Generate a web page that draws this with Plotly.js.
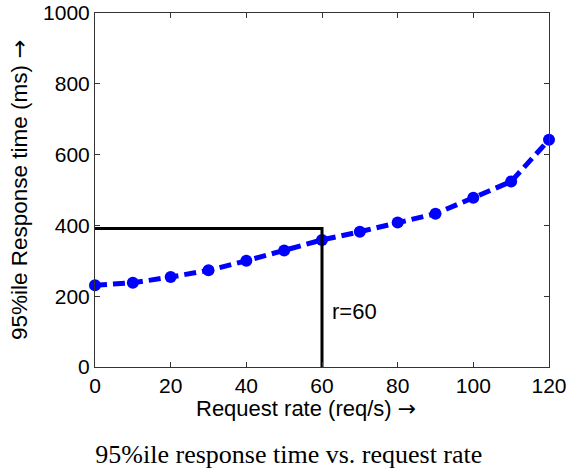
<!DOCTYPE html>
<html><head><meta charset="utf-8">
<script src="https://cdn.plot.ly/plotly-3.0.1.min.js"></script>
<style>html,body{margin:0;padding:0;background:#fff;}#plot{width:568px;height:471px;}</style>
</head><body><div id="plot"></div>
<script>
const requestRate = [0, 10, 20, 30, 40, 50, 60, 70, 80, 90, 100, 110, 120];
const responseTime = [231, 238, 254, 273, 300, 329, 359, 382, 408, 433, 478, 524, 642];
const markerRate = [0, 60, 60];
const markerTime = [391, 391, 0];
const markerLabel = "r=60";
const markerLabelPos = [62, 156];
const xTicks = [0, 20, 40, 60, 80, 100, 120];
const yTicks = [0, 200, 400, 600, 800, 1000];

const arrow = '<span style="font-family:\'DejaVu Sans\'">→</span>';
const traces = [
  {x: requestRate, y: responseTime, type: 'scatter', mode: 'lines+markers',
   line: {color: '#0000ff', width: 5, dash: '12px,6px'},
   marker: {color: '#0000ff', size: 12}, cliponaxis: false},
  {x: markerRate, y: markerTime, type: 'scatter', mode: 'lines',
   line: {color: '#000000', width: 3}}
];
const font = "'Liberation Sans', Arial, sans-serif";
const layout = {
  width: 568, height: 471,
  margin: {l: 95, r: 19, t: 13, b: 104},
  paper_bgcolor: '#fff', plot_bgcolor: '#fff',
  showlegend: false,
  font: {family: font, size: 22, color: '#000'},
  title: {text: '95%ile response time vs. request rate',
          font: {family: "'Liberation Serif', 'Times New Roman', serif", size: 26, color: '#000'},
          x: 0.427, xanchor: 'center', y: 0.036, yanchor: 'middle', xref: 'paper', yref: 'container'},
  xaxis: {range: [0, 120], tickvals: xTicks, ticks: 'inside', ticklen: 5,
          tickcolor: '#333', showline: true, linecolor: '#333', linewidth: 1, mirror: 'ticks',
          showgrid: false, zeroline: false, tickfont: {size: 21}, ticklabeloverflow: 'allow'},
  yaxis: {range: [0, 1000], tickvals: yTicks, ticks: 'inside', ticklen: 5,
          tickcolor: '#333', showline: true, linecolor: '#333', linewidth: 1, mirror: 'ticks',
          showgrid: false, zeroline: false, tickfont: {size: 21}, ticklabeloverflow: 'allow',
          title: {text: '95%ile Response time (ms) ' + arrow, font: {size: 22.5}, standoff: 9}},
  annotations: [
    {x: markerLabelPos[0], y: markerLabelPos[1], text: markerLabel, showarrow: false,
     xanchor: 'left', yanchor: 'middle', font: {size: 22, color: '#000'}},
    {x: 0.465, y: 0, xref: 'paper', yref: 'paper', text: 'Request rate (req/s) ' + arrow,
     showarrow: false, xanchor: 'center', yanchor: 'top', yshift: -27, font: {size: 22, color: '#000'}}
  ]
};
Plotly.newPlot('plot', traces, layout, {displayModeBar: false, staticPlot: true});
</script></body></html>
